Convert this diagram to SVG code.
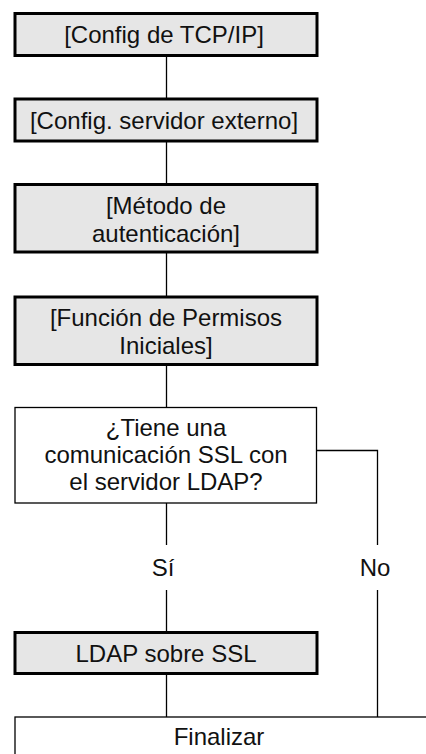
<svg xmlns="http://www.w3.org/2000/svg" width="426" height="754" viewBox="0 0 426 754">
<style>
.proc{fill:#e6e6e6;stroke:#000;stroke-width:3}
.dec{fill:#fff;stroke:#000;stroke-width:1.3}
.t{font-family:"Liberation Sans",Arial,Helvetica,sans-serif;font-size:24px;fill:#111;text-anchor:middle}
.c{fill:none;stroke:#000;stroke-width:1.3}
</style>
<rect width="426" height="754" fill="#fff"/>
<g id="connectors">
<line class="c" x1="166.5" y1="55" x2="166.5" y2="98"/>
<line class="c" x1="166.5" y1="141" x2="166.5" y2="184"/>
<line class="c" x1="166.5" y1="252" x2="166.5" y2="296"/>
<line class="c" x1="166.5" y1="364" x2="166.5" y2="407.5"/>
<line class="c" x1="166.5" y1="503" x2="166.5" y2="545"/>
<line class="c" x1="166.5" y1="590" x2="166.5" y2="632"/>
<line class="c" x1="166.5" y1="673" x2="166.5" y2="717"/>
<polyline class="c" points="316.5,450.5 377.5,450.5 377.5,545"/>
<line class="c" x1="377.5" y1="590" x2="377.5" y2="717"/>
<text class="t" x="163" y="575.5">Sí</text>
<text class="t" x="375" y="575.5">No</text>
</g>
<g id="n1">
<rect class="proc" x="15" y="13.5" width="302" height="42"/>
<text class="t" x="164" y="43">[Config de TCP/IP]</text>
</g>
<g id="n2">
<rect class="proc" x="15" y="99" width="302" height="42"/>
<text class="t" x="164" y="128.5">[Config. servidor externo]</text>
</g>
<g id="n3">
<rect class="proc" x="15" y="184.5" width="302" height="67.5"/>
<text class="t" x="166" y="213.5">[Método de</text>
<text class="t" x="166" y="241.5">autenticación]</text>
</g>
<g id="n4">
<rect class="proc" x="15" y="297" width="302" height="67.5"/>
<text class="t" x="166" y="325.5">[Función de Permisos</text>
<text class="t" x="166" y="353.5">Iniciales]</text>
</g>
<g id="n5">
<rect class="dec" x="15" y="407.5" width="301.5" height="95.5"/>
<text class="t" x="166" y="435.5">¿Tiene una</text>
<text class="t" x="166" y="463">comunicación SSL con</text>
<text class="t" x="166" y="490">el servidor LDAP?</text>
</g>
<g id="n6">
<rect class="proc" x="15" y="632.5" width="302" height="41"/>
<text class="t" x="166" y="661.5">LDAP sobre SSL</text>
</g>
<g id="n7">
<rect class="dec" x="15" y="717" width="420" height="60"/>
<text class="t" x="219" y="745">Finalizar</text>
</g>
</svg>
